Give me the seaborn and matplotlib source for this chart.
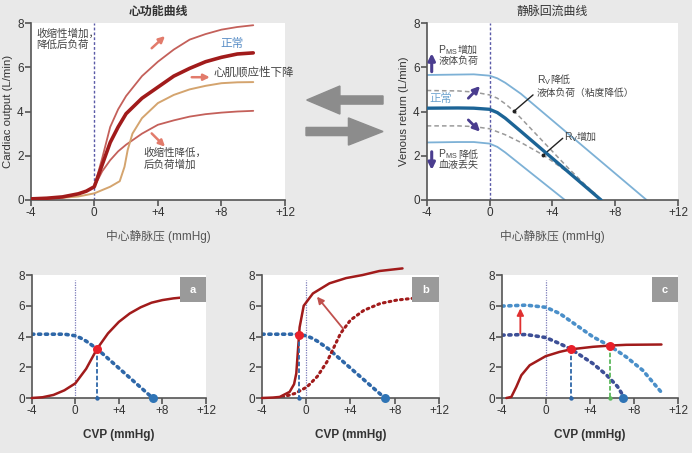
import numpy as np
import pandas as pd
import matplotlib.pyplot as plt
import seaborn as sns
from matplotlib.patches import FancyArrow, Rectangle

sns.set_style("ticks")
plt.rcParams['font.family'] = ['Liberation Sans', 'Noto Sans CJK SC', 'DejaVu Sans']

# ---------------- data: 心功能曲线 (top left) ----------------
co_x_normal = [-4, -3, -2, -1, -0.5, 0, 0.5, 1, 1.5, 2, 3, 4, 5, 6, 7, 8, 9, 10]
co_y_normal = [0.05, 0.08, 0.14, 0.28, 0.4, 0.6, 1.6, 2.6, 3.3, 3.9, 4.6, 5.1, 5.6, 5.95, 6.25, 6.45, 6.6, 6.65]
co_x_up = [0, 0.5, 1, 1.5, 2, 3, 4, 5, 6, 7, 8, 9, 10]
co_y_up = [0.6, 1.9, 3.3, 4.1, 4.7, 5.6, 6.25, 6.8, 7.25, 7.5, 7.7, 7.82, 7.9]
co_x_down = [0, 0.5, 1, 1.5, 2, 3, 4, 5, 6, 7, 8, 9, 10]
co_y_down = [0.6, 1.3, 1.8, 2.2, 2.5, 3.0, 3.4, 3.6, 3.77, 3.88, 3.95, 4.0, 4.03]
co_x_stiff = [-4, -2, -1, 0, 1, 1.6, 1.9, 2.1, 2.4, 3, 4, 5, 6, 7, 8, 9, 10]
co_y_stiff = [0.05, 0.1, 0.16, 0.3, 0.6, 0.85, 1.5, 2.26, 3.0, 3.7, 4.38, 4.75, 5.0, 5.16, 5.28, 5.32, 5.33]

# ---------------- data: 静脉回流曲线 (top right) ----------------
vr_x_high = [-4, -2, -1, 0, 0.5, 1, 1.5, 2, 10]
vr_y_high = [5.65, 5.67, 5.68, 5.62, 5.5, 5.3, 5.05, 4.8, 0]
vr_x_normal = [-4, -2, -1, 0, 0.5, 1, 1.5, 2, 7.1]
vr_y_normal = [4.15, 4.16, 4.15, 4.1, 3.95, 3.7, 3.4, 3.1, 0]
vr_x_low = [-4, -2, -1, 0, 0.5, 1, 4.8]
vr_y_low = [2.6, 2.62, 2.62, 2.55, 2.4, 2.15, 0]
vr_x_rv_low = [-4, -2, -1, 0, 0.5, 1, 1.5, 2, 3, 4, 5, 6, 6.6]
vr_y_rv_low = [4.95, 4.93, 4.88, 4.75, 4.6, 4.35, 4.05, 3.7, 2.95, 2.2, 1.45, 0.75, 0.35]
vr_x_rv_high = [-4, -2, -1, 0, 1, 2, 3, 3.42, 4, 5, 6, 6.8]
vr_y_rv_high = [3.35, 3.35, 3.32, 3.22, 2.95, 2.6, 2.2, 2.03, 1.75, 1.25, 0.7, 0.25]

# ---------------- data: bottom panels ----------------
a_co_x = [-4, -3, -2, -1, 0, 1, 2, 3, 4, 5, 6, 7, 8, 9, 10, 11.7]
a_co_y = [0, 0.05, 0.2, 0.5, 0.95, 1.9, 3.2, 4.2, 4.95, 5.5, 5.9, 6.2, 6.37, 6.48, 6.55, 6.6]
vr_dot_x = [-4, -2, -1, 0, 0.5, 1, 2, 7.1]
vr_dot_y = [4.15, 4.15, 4.15, 4.05, 3.9, 3.7, 3.2, 0]
a_eq = (2.0, 3.2)

b_co_x = [-4, -3, -2.4, -1.5, -1.1, -0.9, -0.75, -0.6, -0.23, 0.6, 2.1, 3.6, 5.1, 6.6, 8.7]
b_co_y = [0, 0.03, 0.07, 0.4, 0.9, 1.6, 3.1, 4.6, 6.0, 6.8, 7.46, 7.8, 8.0, 8.26, 8.43]
b_old_x = [-2.2, -1, 0.07, 1, 1.87, 3.1, 4.0, 5.2, 6.7, 8.2, 9.6]
b_old_y = [0.05, 0.3, 0.72, 1.4, 2.35, 4.2, 5.07, 5.7, 6.15, 6.37, 6.48]
b_eq = (-0.7, 4.13)

c_co_x = [-3.6, -3.15, -2.7, -2.24, -1.48, -0.03, 1.24, 2.3, 4.27, 5.8, 7.3, 10.5]
c_co_y = [0, 0.07, 0.72, 1.48, 2.13, 2.72, 3.0, 3.17, 3.33, 3.41, 3.46, 3.48]
c_vr_hi_x = [-4, -1.8, 0, 1.24, 2.76, 4.27, 5.8, 7.3, 8.8, 10.6]
c_vr_hi_y = [5.98, 6.04, 5.9, 5.5, 4.74, 3.98, 3.39, 2.67, 1.8, 0.28]
c_vr_x = [-4, -1.8, 0, 1.24, 2.3, 4.27, 5.5, 6.5, 7.1]
c_vr_y = [4.09, 4.13, 3.93, 3.54, 3.17, 2.24, 1.5, 0.75, 0.05]
c_eq1 = (2.3, 3.17)
c_eq2 = (5.8, 3.41)

x_ticks = [-4, 0, 4, 8, 12]
x_tick_labels = ['-4', '0', '+4', '+8', '+12']
y_ticks = [0, 2, 4, 6, 8]

# colours
BG = '#e9e9e9'
DARKRED = '#a11b1b'
PINKRED = '#c4605a'
SALMON = '#e27b6b'
TAN = '#d4a46e'
LBLUE = '#7db1d6'
DBLUE = '#1c6496'
PURPLE = '#4a3d8f'
DOTBLUE = '#2e67a8'
TXT = '#333333'
NOTE = '#444444'

fig = plt.figure(figsize=(6.92, 4.53), dpi=100, facecolor=BG)


def style_axes(ax):
    ax.set_facecolor('white')
    ax.set_xlim(-4, 12)
    ax.set_ylim(0, 8)
    ax.set_xticks(x_ticks)
    ax.set_xticklabels(x_tick_labels)
    ax.set_yticks(y_ticks)
    for s in ['top', 'right']:
        ax.spines[s].set_visible(False)
    for s in ['left', 'bottom']:
        ax.spines[s].set_color('#555555')
        ax.spines[s].set_linewidth(1.2)
    ax.tick_params(colors='#555555', labelcolor=TXT, labelsize=8.5, length=4, width=1.2, pad=1)


def line(ax, x, y, color, lw, ls='-', clip=True, z=2):
    sns.lineplot(x=x, y=y, ax=ax, color=color, lw=lw, ls=ls, sort=False,
                 estimator=None, clip_on=clip, zorder=z)


def arrow(ax, start, end, color, lw=1.5, ms=9):
    ax.annotate('', xy=end, xytext=start,
                arrowprops=dict(arrowstyle='-|>', color=color, lw=lw, mutation_scale=ms,
                                shrinkA=0, shrinkB=0), annotation_clip=False)


def sub_label(ax, x, y, main, sub, rest, gap):
    # main letter with subscript, then Chinese text after a gap (points)
    ax.text(x, y, main + r'$_\mathregular{' + sub + '}$', fontsize=7.5, color=NOTE, va='center', ha='left')
    ax.annotate(rest, xy=(x, y), xytext=(gap, 0), textcoords='offset points',
                fontsize=7.2, color=NOTE, va='center', ha='left')


# ---------------- top left ----------------
ax1 = fig.add_axes([0.0444, 0.5585, 0.3675, 0.3907])
style_axes(ax1)
ax1.axvline(0, color='#5a5aa8', lw=1, ls=(0, (2, 1.5)), zorder=1)
line(ax1, co_x_up, co_y_up, PINKRED, 1.3)
line(ax1, co_x_down, co_y_down, PINKRED, 1.3)
line(ax1, co_x_stiff, co_y_stiff, TAN, 1.4)
line(ax1, co_x_normal, co_y_normal, DARKRED, 2.6, z=3)
arrow(ax1, (3.61, 6.86), (4.45, 7.41), SALMON, 1.8)
arrow(ax1, (6.13, 5.55), (7.27, 5.55), SALMON, 1.8)
arrow(ax1, (3.61, 3.01), (4.45, 2.41), SALMON, 1.8)
ax1.text(-3.67, 7.77, '收缩性增加，\n降低后负荷', fontsize=7.6, color=NOTE, va='top', ha='left', linespacing=1.15)
ax1.text(8.66, 7.05, '正常', fontsize=8.4, color='#5b8fc7', va='center', ha='center')
ax1.text(7.48, 5.76, '心肌顺应性下降', fontsize=8.3, color=NOTE, va='center', ha='left', clip_on=False)
ax1.text(3.08, 2.35, '收缩性降低，\n后负荷增加', fontsize=7.6, color=NOTE, va='top', ha='left', linespacing=1.15)
ax1.set_ylabel('Cardiac output (L/min)', fontsize=8.2, color=TXT, labelpad=3)
ax1.set_xlabel('中心静脉压 (mmHg)', fontsize=8.5, color='#555555', labelpad=8)
ax1.set_title('心功能曲线', fontsize=8.6, fontweight='bold', color=TXT, pad=6)

# ---------------- top right ----------------
ax2 = fig.add_axes([0.6166, 0.5585, 0.3632, 0.3907])
style_axes(ax2)
ax2.axvline(0, color='#5a5aa8', lw=1, ls=(0, (2, 1.5)), zorder=1)
line(ax2, vr_x_high, vr_y_high, LBLUE, 1.3)
line(ax2, vr_x_low, vr_y_low, LBLUE, 1.3)
line(ax2, vr_x_rv_low, vr_y_rv_low, '#9a9a9a', 1.1, ls=(0, (3, 2)))
line(ax2, vr_x_rv_high, vr_y_rv_high, '#9a9a9a', 1.1, ls=(0, (3, 2)))
line(ax2, vr_x_normal, vr_y_normal, DBLUE, 2.4, z=3)
arrow(ax2, (-3.68, 5.8), (-3.68, 6.63), PURPLE, 2.2, 10)
arrow(ax2, (-3.68, 2.18), (-3.68, 1.36), PURPLE, 2.2, 10)
arrow(ax2, (-1.35, 4.6), (-0.6, 5.15), PURPLE, 2.0, 10)
arrow(ax2, (-1.35, 3.62), (-0.6, 3.09), PURPLE, 2.0, 10)
# pointers
ax2.plot([1.57, 2.77], [4.02, 4.75], color='#222222', lw=1)
ax2.plot([3.42, 4.66], [2.03, 2.79], color='#222222', lw=1)
sns.scatterplot(x=[1.57, 3.42], y=[4.02, 2.03], ax=ax2, color='#222222', s=8, zorder=5, linewidth=0)
sub_label(ax2, 3.0, 5.42, 'R', 'V', '降低', 10)
ax2.text(3.0, 4.86, '液体负荷（粘度降低）', fontsize=7.0, color=NOTE, va='center', ha='left')
sub_label(ax2, 4.72, 2.86, 'R', 'V', '增加', 9)
sub_label(ax2, -3.25, 6.78, 'P', 'MS', '增加', 14)
sub_label(ax2, -3.25, 2.06, 'P', 'MS', '降低', 14)
ax2.text(-3.25, 6.3, '液体负荷', fontsize=7.2, color=NOTE, va='center', ha='left')
ax2.text(-3.25, 1.58, '血液丢失', fontsize=7.2, color=NOTE, va='center', ha='left')
ax2.text(-3.1, 4.59, '正常', fontsize=8.2, color='#6fa4cf', va='center', ha='center')
ax2.set_ylabel('Venous return (L/min)', fontsize=8.2, color=TXT, labelpad=3)
ax2.set_xlabel('中心静脉压 (mmHg)', fontsize=8.5, color='#555555', labelpad=8)
ax2.set_title('静脉回流曲线', fontsize=8.6, color=TXT, pad=6)

# ---------------- middle arrows ----------------
fig.patches.append(FancyArrow(0.5535, 0.7792, -0.1103, 0, width=0.018, head_width=0.062,
                              head_length=0.048, length_includes_head=True, color='#8c8c8c',
                              transform=fig.transFigure, figure=fig))
fig.patches.append(FancyArrow(0.4422, 0.7097, 0.1113, 0, width=0.018, head_width=0.060,
                              head_length=0.050, length_includes_head=True, color='#8c8c8c',
                              transform=fig.transFigure, figure=fig))

# ---------------- bottom panels ----------------
dot_ls = (0, (0.6, 1.3))


def bottom_panel(rect, letter):
    ax = fig.add_axes(rect)
    style_axes(ax)
    ax.plot([0, 0], [0, 7.7], color='#7a7ab8', lw=0.9, ls=(0, (1, 1)), zorder=1)
    ax.add_patch(Rectangle((0.85, 0.78), 0.15, 0.205, transform=ax.transAxes,
                           facecolor='#9a9a9a', edgecolor='none', zorder=6))
    ax.text(0.925, 0.88, letter, transform=ax.transAxes, color='white', fontsize=8,
            fontweight='bold', ha='center', va='center', zorder=7)
    ax.set_xlabel('CVP (mmHg)', fontsize=8.5, fontweight='bold', color=TXT, labelpad=9)
    return ax


def drop(ax, pt, color):
    ax.plot([pt[0], pt[0]], [pt[1], 0], color=color, lw=1.3, ls=(0, (2.5, 1.2)), zorder=3)
    sns.scatterplot(x=[pt[0]], y=[0], ax=ax, color=color, s=10, zorder=5, linewidth=0, clip_on=False)


def dotted(ax, x, y, color):
    l = ax.plot(x, y, color=color, lw=2.6, ls=dot_ls, zorder=2)[0]
    l.set_dash_capstyle('round')


# a
axa = bottom_panel([0.0458, 0.1214, 0.2519, 0.2715], 'a')
dotted(axa, vr_dot_x, vr_dot_y, DOTBLUE)
line(axa, a_co_x, a_co_y, DARKRED, 1.8, clip=False, z=3)
drop(axa, a_eq, DOTBLUE)
sns.scatterplot(x=[a_eq[0]], y=[a_eq[1]], ax=axa, color='#e8202a', s=42, zorder=6, linewidth=0)
sns.scatterplot(x=[7.1], y=[0], ax=axa, color='#2f74b5', s=42, zorder=6, linewidth=0, clip_on=False)

# b
axb = bottom_panel([0.3786, 0.1214, 0.2558, 0.2715], 'b')
dotted(axb, vr_dot_x, vr_dot_y, DOTBLUE)
ob = axb.plot(b_old_x, b_old_y, color=DARKRED, lw=2.2, ls=dot_ls, zorder=2)[0]
ob.set_dash_capstyle('round')
line(axb, b_co_x, b_co_y, DARKRED, 1.8, clip=False, z=3)
arrow(axb, (3.32, 4.52), (0.97, 6.59), '#c0504d', 1.3, 10)
drop(axb, b_eq, DOTBLUE)
sns.scatterplot(x=[b_eq[0]], y=[b_eq[1]], ax=axb, color='#e8202a', s=42, zorder=6, linewidth=0)
sns.scatterplot(x=[7.1], y=[0], ax=axb, color='#2f74b5', s=42, zorder=6, linewidth=0, clip_on=False)

# c
axc = bottom_panel([0.7254, 0.1214, 0.2543, 0.2715], 'c')
dotted(axc, c_vr_hi_x, c_vr_hi_y, '#4a8fc9')
dotted(axc, c_vr_x, c_vr_y, '#3d4f96')
line(axc, c_co_x, c_co_y, DARKRED, 1.8, clip=False, z=3)
arrow(axc, (-2.33, 4.2), (-2.33, 5.83), '#e03030', 1.3, 10)
drop(axc, c_eq1, DOTBLUE)
drop(axc, c_eq2, '#5cb85c')
sns.scatterplot(x=[c_eq1[0], c_eq2[0]], y=[c_eq1[1], c_eq2[1]], ax=axc, color='#e8202a', s=42, zorder=6, linewidth=0)
sns.scatterplot(x=[7.0], y=[0], ax=axc, color='#2f74b5', s=42, zorder=6, linewidth=0, clip_on=False)

fig.savefig('out.png', dpi=100, facecolor=BG)
